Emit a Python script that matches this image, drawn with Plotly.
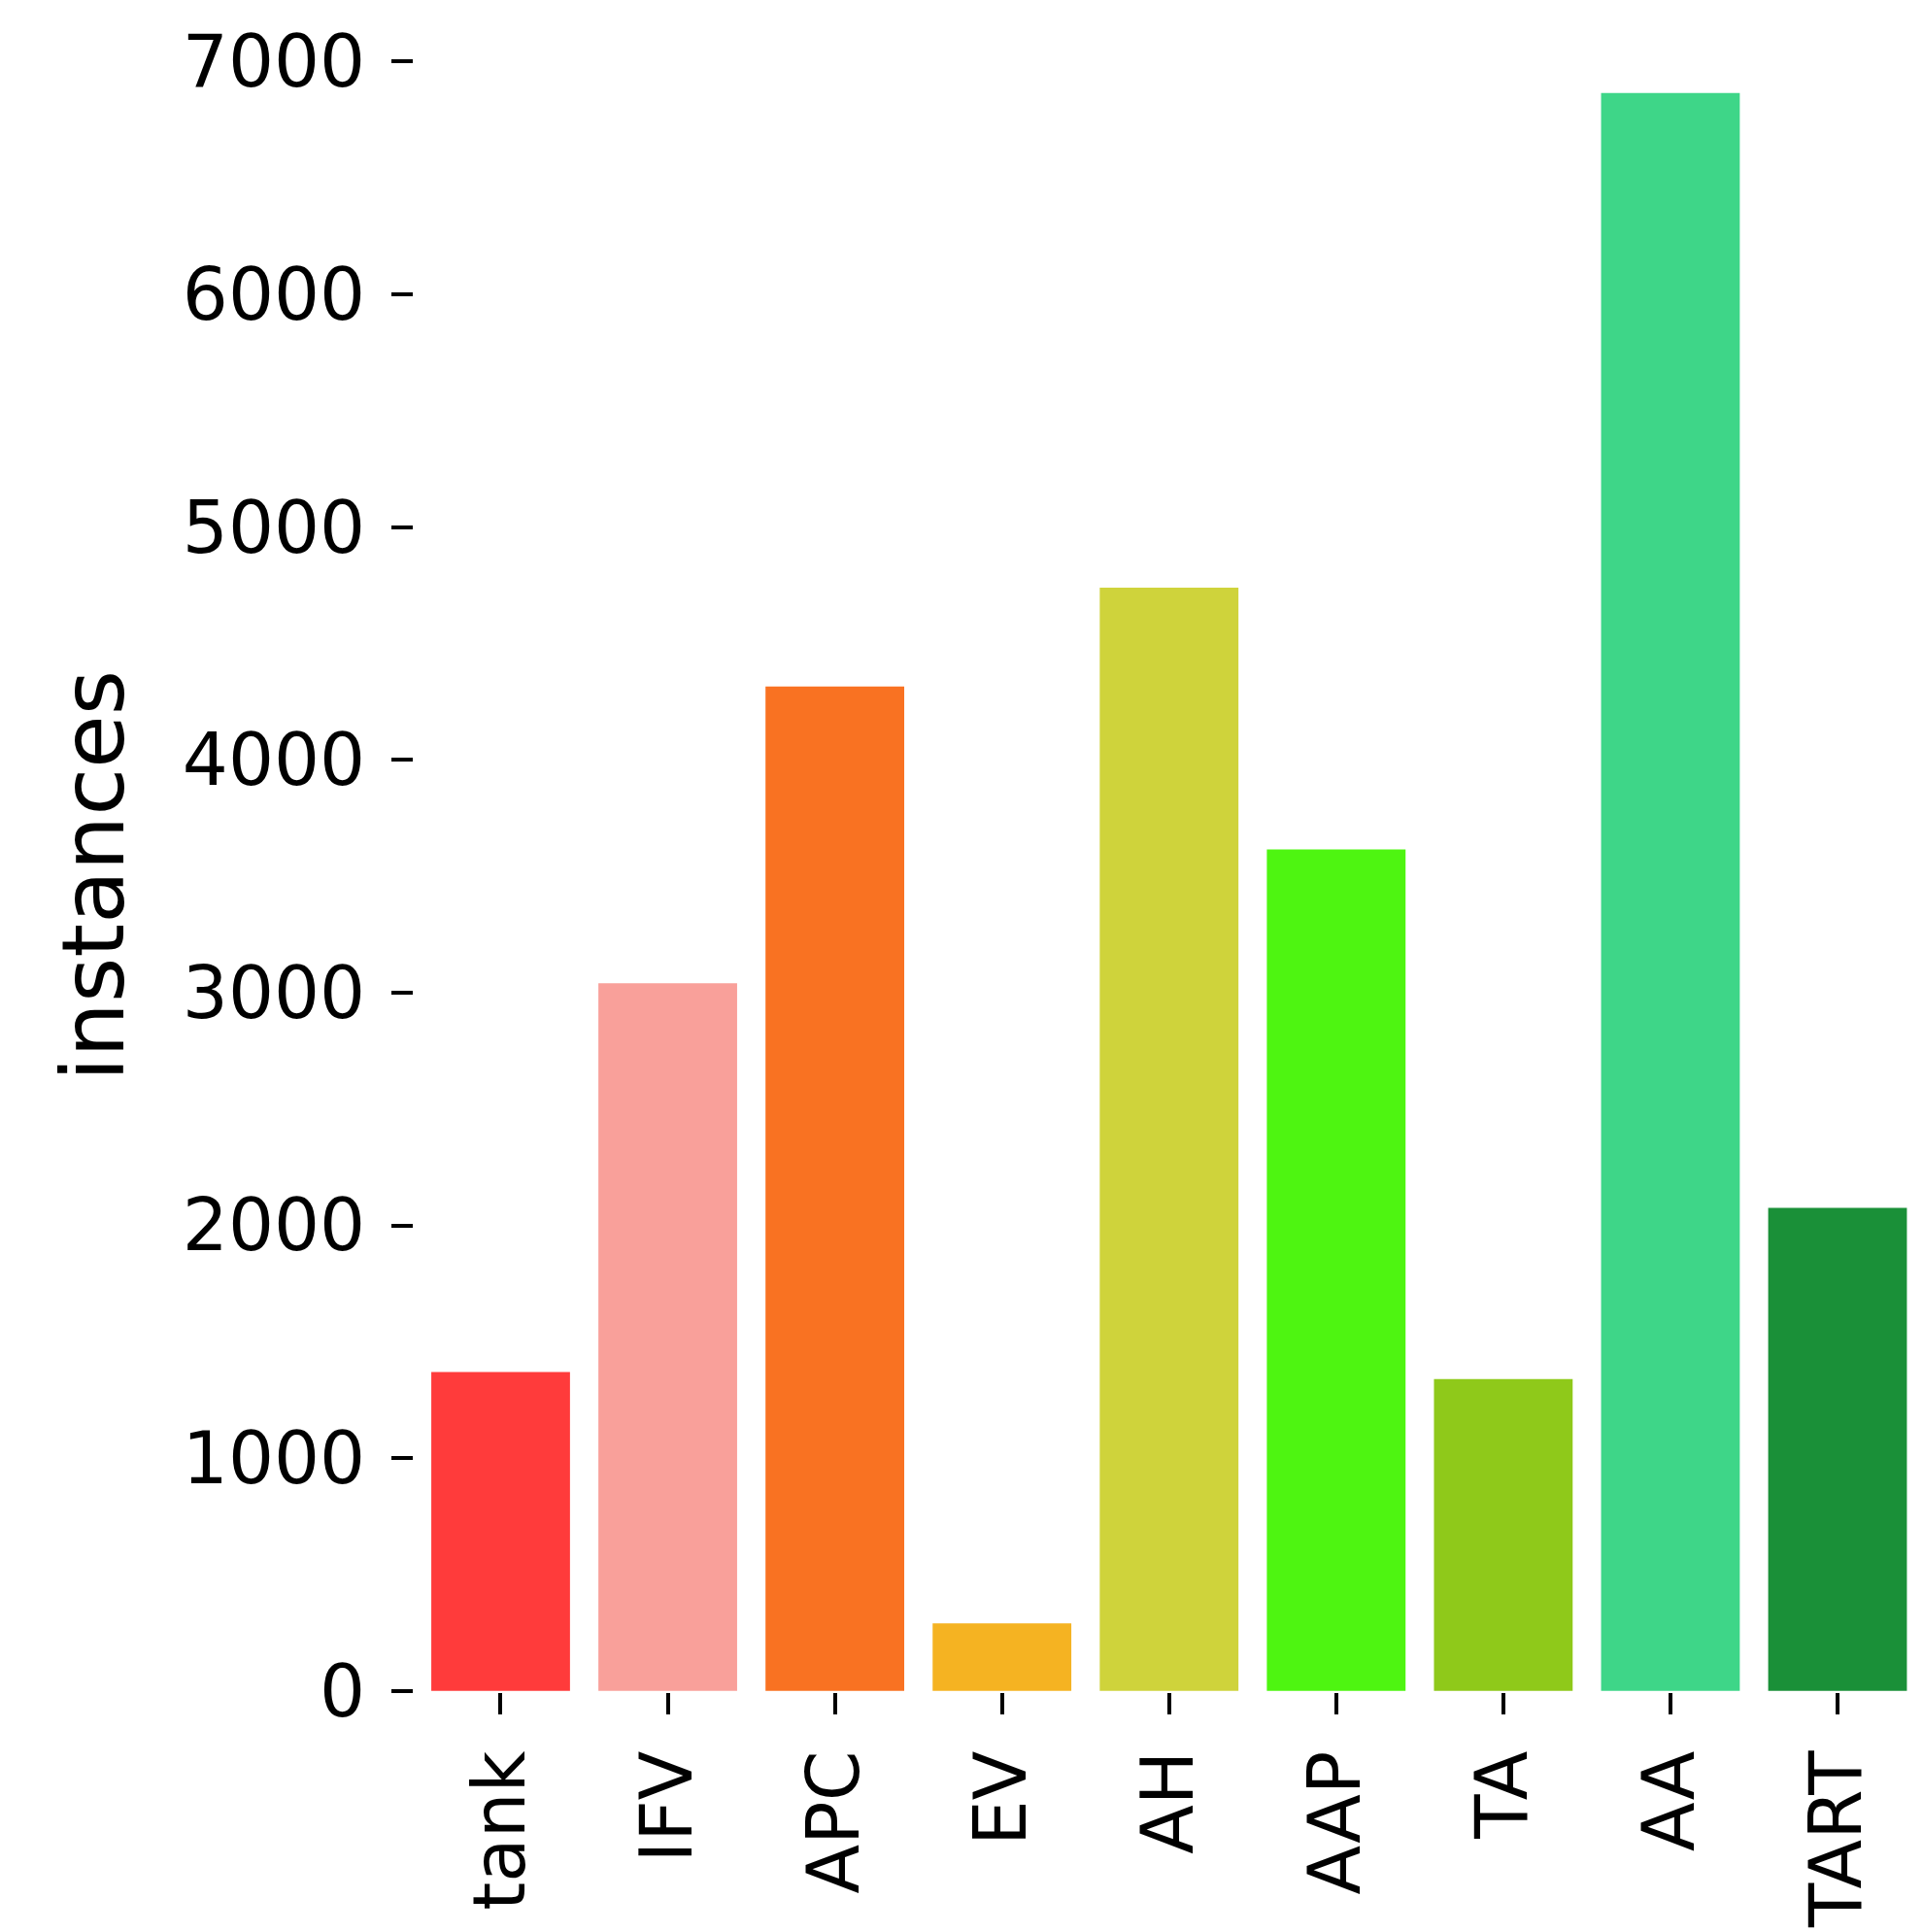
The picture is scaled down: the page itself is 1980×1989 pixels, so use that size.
import plotly.graph_objects as go

categories = ["tank", "IFV", "APC", "EV", "AH", "AAP", "TA", "AA", "TART"]
values = [1370, 3040, 4315, 290, 4740, 3615, 1340, 6865, 2075]
colors = ["#FF3B3B", "#F9A09A", "#F97222", "#F5B322", "#CFD33B", "#4EF511", "#8FC91A", "#3ED688", "#1A9038"]

fig = go.Figure(go.Bar(x=categories, y=values, marker=dict(color=colors, line=dict(width=0)), width=0.83))
fig.update_layout(
    width=1980, height=1989, plot_bgcolor="white", paper_bgcolor="white",
    margin=dict(l=418, r=22, t=48, b=250),
    font=dict(family="DejaVu Sans", size=74, color="black"),
    showlegend=False,
)
fig.update_xaxes(range=[-0.52, 8.43], showline=False, showgrid=False, ticks="outside",
                 ticklen=22, tickwidth=4, tickcolor="black", tickangle=-90, ticklabelstandoff=8)
fig.update_yaxes(range=[-5, 7010], tickvals=[0,1000,2000,3000,4000,5000,6000,7000],
                 showline=False, showgrid=False, zeroline=False, ticks="outside",
                 ticklen=22, tickwidth=4, tickcolor="black", ticklabelstandoff=12,
                 title=dict(text="instances", standoff=30))
fig.write_html("out.html")
